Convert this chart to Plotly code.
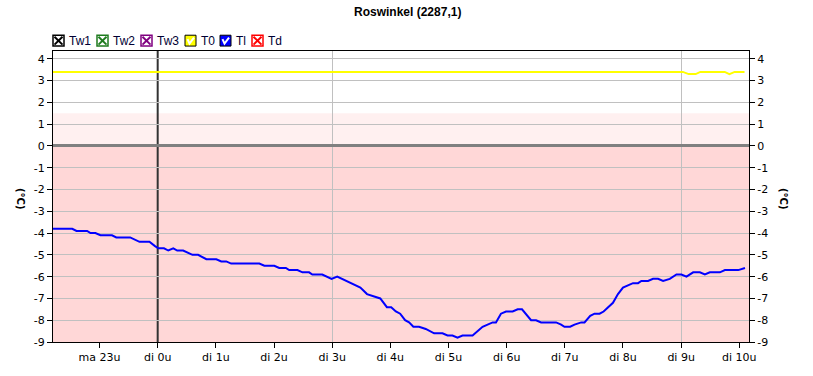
import plotly.graph_objects as go

# ---------------- data ----------------
title_text = "Roswinkel (2287,1)"
x_tick_vals = [-1, 0, 1, 2, 3, 4, 5, 6, 7, 8, 9, 10]
x_tick_text = ["ma 23u", "di 0u", "di 1u", "di 2u", "di 3u", "di 4u", "di 5u",
               "di 6u", "di 7u", "di 8u", "di 9u", "di 10u"]
y_tick_vals = list(range(-9, 5))

# Tl (blue) - hours relative to di 0u, temperature in degC
tl_hours = [-1.834, -1.469, -1.395, -1.213, -1.156, -1.071, -0.985, -0.786, -0.712, -0.473,
            -0.313, -0.142, -0.046, 0.011, 0.108, 0.182, 0.268, 0.336, 0.438, 0.524,
            0.598, 0.695, 0.780, 0.837, 1.008, 1.093, 1.179, 1.264, 1.748, 1.834,
            2.005, 2.090, 2.204, 2.261, 2.403, 2.489, 2.603, 2.659, 2.830, 2.990,
            3.087, 3.343, 3.485, 3.599, 3.827, 3.941, 4.015, 4.095, 4.169, 4.254,
            4.322, 4.396, 4.494, 4.609, 4.753, 4.897, 4.983, 5.069, 5.155, 5.241,
            5.414, 5.586, 5.759, 5.816, 5.902, 5.989, 6.103, 6.190, 6.264, 6.420,
            6.506, 6.592, 6.851, 6.937, 6.994, 7.092, 7.167, 7.282, 7.339, 7.437,
            7.511, 7.598, 7.667, 7.828, 7.914, 8.000, 8.103, 8.172, 8.259, 8.316,
            8.431, 8.517, 8.603, 8.690, 8.805, 8.920, 9.006, 9.092, 9.207, 9.322,
            9.408, 9.494, 9.667, 9.753, 9.983, 10.098]
tl_values = [-3.8, -3.8, -3.9, -3.9, -4.0, -4.0, -4.1, -4.1, -4.2, -4.2,
             -4.4, -4.4, -4.6, -4.7, -4.7, -4.8, -4.7, -4.8, -4.8, -4.9,
             -5.0, -5.0, -5.1, -5.2, -5.2, -5.3, -5.3, -5.4, -5.4, -5.5,
             -5.5, -5.6, -5.6, -5.7, -5.7, -5.8, -5.8, -5.9, -5.9, -6.1,
             -6.0, -6.3, -6.5, -6.8, -7.0, -7.4, -7.4, -7.6, -7.7, -8.0,
             -8.1, -8.3, -8.3, -8.4, -8.6, -8.6, -8.7, -8.7, -8.8, -8.7,
             -8.7, -8.3, -8.1, -8.1, -7.7, -7.6, -7.6, -7.5, -7.5, -8.0,
             -8.0, -8.1, -8.1, -8.2, -8.3, -8.3, -8.2, -8.1, -8.1, -7.8,
             -7.7, -7.7, -7.6, -7.2, -6.8, -6.5, -6.4, -6.3, -6.3, -6.2,
             -6.2, -6.1, -6.1, -6.2, -6.1, -5.9, -5.9, -6.0, -5.8, -5.8,
             -5.9, -5.8, -5.8, -5.7, -5.7, -5.6]

# T0 (yellow)
t0_hours = [-1.834, 9.03, 9.13, 9.25, 9.33, 9.75, 9.83, 9.92, 10.09]
t0_values = [3.4, 3.4, 3.3, 3.3, 3.4, 3.4, 3.3, 3.4, 3.4]

legend_names = ["Tw1", "Tw2", "Tw3", "T0", "Tl", "Td"]
legend_colors = ["#000000", "#1E7B1E", "#800080", "#FFFF00", "#0000FF", "#FF0000"]
legend_kinds = ["x", "x", "x", "check", "check", "x"]

# ---------------- layout geometry ----------------
W, H = 813, 376
ML, MR, MT, MB = 53, 64, 51, 30
PW, PH = W - ML - MR, H - MT - MB


def px_x(x):
    # screen pixel -> paper fraction
    return (x - ML) / PW


def px_y(y):
    return (H - MB - y) / PH


fig = go.Figure()

fig.add_trace(go.Scatter(x=t0_hours, y=t0_values, mode="lines",
                         line=dict(color="#FFFF00", width=2), yaxis="y2",
                         showlegend=False, hoverinfo="skip"))
fig.add_trace(go.Scatter(x=tl_hours, y=tl_values, mode="lines",
                         line=dict(color="#0000FF", width=2),
                         showlegend=False, hoverinfo="skip"))

shapes = []
# background bands
shapes.append(dict(type="rect", xref="paper", yref="y", x0=0, x1=1, y0=-9, y1=0,
                   fillcolor="#FFD7D7", line=dict(width=0), layer="below"))
shapes.append(dict(type="rect", xref="paper", yref="y", x0=0, x1=1, y0=0, y1=1.5,
                   fillcolor="#FFF0F0", line=dict(width=0), layer="below"))
# day change line
shapes.append(dict(type="line", xref="x", yref="paper", x0=0, x1=0, y0=0, y1=1,
                   line=dict(color="#333333", width=2), layer="between"))

annotations = []
annotations.append(dict(text="<b>" + title_text + "</b>", xref="paper", yref="paper",
                        x=px_x(407), y=px_y(11), xanchor="center", yanchor="middle",
                        showarrow=False,
                        font=dict(family="Liberation Sans, Arial", size=12, color="#000000")))
for xl in (20, 783):
    annotations.append(dict(text="<b>(°C)</b>", xref="paper", yref="paper",
                            x=px_x(xl), y=px_y(200), xanchor="center", yanchor="middle",
                            textangle=90, showarrow=False,
                            font=dict(family="DejaVu Sans", size=10, color="#000000")))

# legend drawn manually (screen pixel positions)
box_lefts = [53, 97, 141, 185, 220, 252]
for name, col, kind, bx in zip(legend_names, legend_colors, legend_kinds, box_lefts):
    x0, x1 = bx, bx + 11
    y0, y1 = 35, 46
    if kind == "x":
        shapes.append(dict(type="rect", xref="paper", yref="paper",
                           x0=px_x(x0), x1=px_x(x1), y0=px_y(y1), y1=px_y(y0),
                           fillcolor="#FFFFFF", line=dict(color=col, width=1.5)))
        shapes.append(dict(type="line", xref="paper", yref="paper",
                           x0=px_x(x0 + 1.5), x1=px_x(x1 - 1.5), y0=px_y(y0 + 1.5), y1=px_y(y1 - 1.5),
                           line=dict(color=col, width=2)))
        shapes.append(dict(type="line", xref="paper", yref="paper",
                           x0=px_x(x0 + 1.5), x1=px_x(x1 - 1.5), y0=px_y(y1 - 1.5), y1=px_y(y0 + 1.5),
                           line=dict(color=col, width=2)))
    else:
        shapes.append(dict(type="rect", xref="paper", yref="paper",
                           x0=px_x(x0), x1=px_x(x1), y0=px_y(y1), y1=px_y(y0),
                           fillcolor=col, line=dict(color="#000000", width=1)))
        path = "M {} {} L {} {} L {} {}".format(
            px_x(x0 + 2.5), px_y(y0 + 4), px_x(x0 + 4.5), px_y(y1 - 2.5),
            px_x(x1 - 2), px_y(y0 + 2.5))
        shapes.append(dict(type="path", xref="paper", yref="paper", path=path,
                           line=dict(color="#FFFFFF", width=2)))
    annotations.append(dict(text=name, xref="paper", yref="paper",
                            x=px_x(x1 + 3), y=px_y(41), xanchor="left", yanchor="middle",
                            showarrow=False,
                            font=dict(family="Liberation Sans, Arial", size=12, color="#000033")))

tick_font = dict(family="DejaVu Sans", size=11, color="#000000")
yaxis_common = dict(range=[-9, 4.36], tickmode="array", tickvals=y_tick_vals,
                    ticktext=[str(v) for v in y_tick_vals],
                    ticks="outside", ticklen=5, tickcolor="#000000", tickwidth=1,
                    tickfont=tick_font, fixedrange=True)

fig.update_layout(
    width=W, height=H,
    margin=dict(l=ML, r=MR, t=MT, b=MB, pad=0),
    paper_bgcolor="#FFFFFF", plot_bgcolor="#FFFFFF",
    showlegend=False,
    xaxis=dict(range=[-1.80, 10.167], tickmode="array", tickvals=x_tick_vals,
               ticktext=x_tick_text, ticks="outside", ticklen=5, tickcolor="#000000",
               tickfont=tick_font, showgrid=False, zeroline=False,
               showline=True, linecolor="#000000", linewidth=1, mirror=True,
               minor=dict(tickvals=[3, 9], showgrid=True, gridcolor="#C0C0C0",
                          gridwidth=1, ticks=""),
               fixedrange=True),
    yaxis=dict(**yaxis_common, side="left", showgrid=True, gridcolor="#C0C0C0", gridwidth=1,
               zeroline=True, zerolinecolor="#808080", zerolinewidth=3,
               showline=True, linecolor="#000000", linewidth=1, mirror=True),
    yaxis2=dict(**yaxis_common, side="right", overlaying="y", matches="y",
                showgrid=False, zeroline=False, showline=False),
    shapes=shapes,
    annotations=annotations,
)

# remove the default page margin so the figure fills the window exactly
fig.write_html("out.html", config={"displayModeBar": False},
               post_script="document.body.style.margin='0';document.body.style.overflow='hidden';")
